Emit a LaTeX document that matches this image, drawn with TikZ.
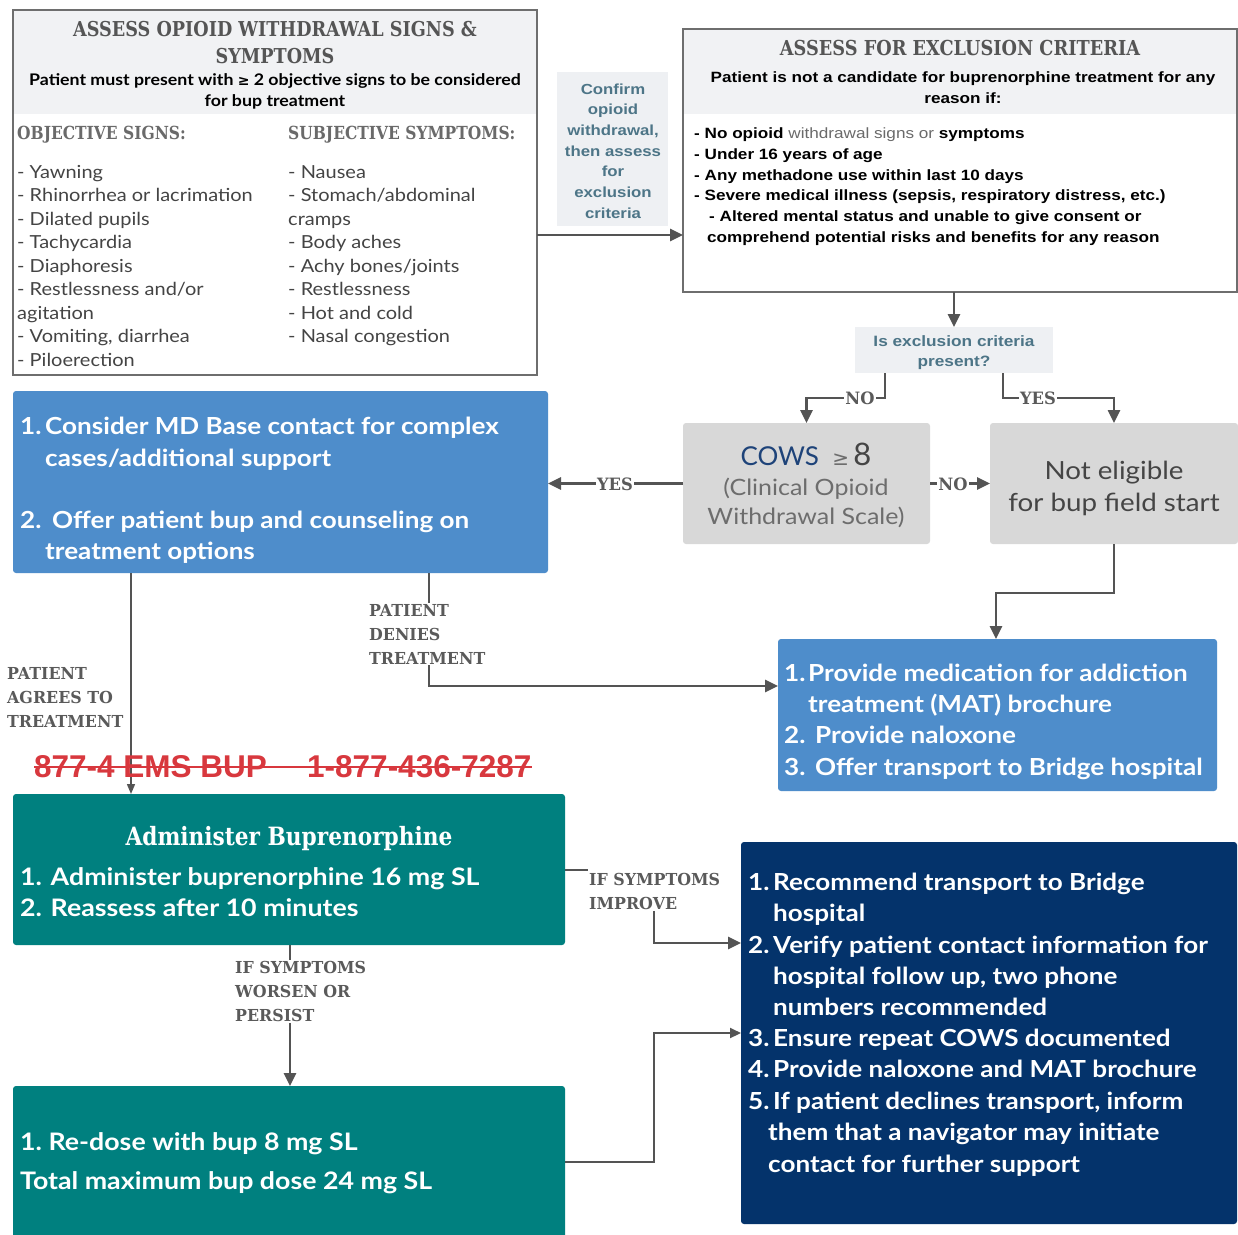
\documentclass[tikz,border=0pt]{standalone}
\usepackage{fontspec}
\setmainfont{Lato}
\newfontfamily\wide[FakeStretch=1.11]{Lato}
\newfontfamily\slab[FakeStretch=0.86]{DejaVu Serif}
\newfontfamily\slabl[FakeStretch=0.96]{DejaVu Serif}
\newfontfamily\arialw[FakeStretch=1.15]{Liberation Sans}
\newfontfamily\arial{Liberation Sans}
\newfontfamily\dejavu{DejaVu Sans}
\usetikzlibrary{arrows.meta}
\newcommand\fsz[2]{\fontsize{#1}{#2}\selectfont}
\definecolor{hdrgray}{HTML}{F1F2F4}
\definecolor{bordergray}{HTML}{6E6E6E}
\definecolor{qfill}{HTML}{EEF0F3}
\definecolor{conftext}{HTML}{4D7587}
\definecolor{cowsfill}{HTML}{D8D8D8}
\definecolor{bluebox}{HTML}{4E8DCB}
\definecolor{tealbox}{HTML}{00807F}
\definecolor{navybox}{HTML}{04336B}
\definecolor{lblgray}{HTML}{5A5A5A}
\definecolor{titlegray}{HTML}{555555}
\definecolor{listgray}{HTML}{444444}
\definecolor{midgray}{HTML}{6A6A6A}
\definecolor{redtxt}{HTML}{D8383E}
\definecolor{linecol}{HTML}{545454}
\definecolor{cowsblue}{HTML}{1E4379}
\definecolor{cowsgray}{HTML}{6D6D6D}
\definecolor{negray}{HTML}{454545}
\begin{document}
\begin{tikzpicture}[x=1pt,y=-1pt,
  box/.style={anchor=north west, inner sep=0pt, outer sep=0pt},
  gbox/.style={box, draw=bordergray, line width=1.3pt},
  cbox/.style={box, rounded corners=3pt},
  conn/.style={draw=linecol, line width=2.6pt, -{Triangle[length=13pt,width=12pt]}},
  thinconn/.style={draw=linecol, line width=1.4pt, -{Triangle[length=10pt,width=8pt]}},
  midconn/.style={draw=linecol, line width=2pt, -{Triangle[length=11pt,width=10pt]}},
  lbl/.style={font=\slabl\bfseries\fsz{16.5}{24}, text=lblgray, inner sep=1pt, align=left, anchor=north west},
  yn/.style={font=\slabl\bfseries\fsz{17}{17}, text=lblgray, fill=white, inner sep=1pt},
  ttl/.style={font=\slab\bfseries\fsz{20.5}{27}, text=titlegray, inner sep=0pt, anchor=base},
  colh/.style={font=\slab\bfseries\fsz{18}{20}, text=midgray, inner sep=0pt, anchor=base west},
  sub/.style={font=\wide\bfseries\fsz{16}{20}, text=black, inner sep=0pt, anchor=base},
  li/.style={font=\wide\fsz{18}{20}, text=listgray, inner sep=0pt, anchor=base west},
  exsub/.style={font=\arialw\bfseries\fsz{14.9}{18}, text=black, inner sep=0pt, anchor=base},
  exli/.style={font=\arialw\bfseries\fsz{14.9}{18}, text=black, inner sep=0pt, anchor=base west},
  conf/.style={font=\arialw\bfseries\fsz{14.6}{18}, text=conftext, inner sep=0pt, anchor=base},
  wt/.style={font=\wide\bfseries\fsz{23.5}{28}, text=white, inner sep=0pt, anchor=base west},
  tt/.style={wt, font=\wide\bfseries\fsz{24.1}{28}},
]
\useasboundingbox (0,0) rectangle (1238,1234);
\fill[white] (0,0) rectangle (1238,1234);

% ---------- top-left assessment box ----------
\fill[hdrgray] (13,10) rectangle (537,114);
\node[gbox, minimum width=524pt, minimum height=365pt] (assess) at (13,10) {};
\node[ttl] (t1a) at (275,36) {ASSESS OPIOID WITHDRAWAL SIGNS \&};
\node[ttl] (t1b) at (275,63) {SYMPTOMS};
\node[sub] (t1c) at (275,85) {Patient must present with {\dejavu\fsz{14}{16}≥} 2 objective signs to be considered};
\node[sub] (t1d) at (275,106) {for bup treatment};
\node[colh] (oh) at (17,139) {OBJECTIVE SIGNS:};
\node[colh] (sh) at (288,139) {SUBJECTIVE SYMPTOMS:};
\foreach \t [count=\i] in {- Yawning, - Rhinorrhea or lacrimation, - Dilated pupils, - Tachycardia, - Diaphoresis, - Restlessness and/or, agitation, {- Vomiting, diarrhea}, - Piloerection}
  \node[li] (ol\i) at (17,{178+23.5*(\i-1)}) {\t};
\foreach \t [count=\i] in {- Nausea, - Stomach/abdominal, cramps, - Body aches, - Achy bones/joints, - Restlessness, - Hot and cold, - Nasal congestion}
  \node[li] (sl\i) at (288,{178+23.5*(\i-1)}) {\t};

% ---------- confirm label box ----------
\node[box, fill=qfill, minimum width=111pt, minimum height=154pt] (conf) at (557,72) {};
\foreach \t [count=\i] in {Confirm, opioid, {withdrawal,}, then assess, for, exclusion, criteria}
  \node[conf] (cf\i) at (613,{94+20.7*(\i-1)}) {\t};

% ---------- exclusion box ----------
\fill[hdrgray] (683,29) rectangle (1237,114);
\node[gbox, minimum width=554pt, minimum height=263pt] (excl) at (683,29) {};
\node[ttl, font=\slab\bfseries\fsz{20.6}{24}] (e1) at (960,55) {ASSESS FOR EXCLUSION CRITERIA};
\node[exsub] (e2) at (963,82) {Patient is not a candidate for buprenorphine treatment for any};
\node[exsub] (e3) at (963,103) {reason if:};
\node[exli] (x1) at (694,138) {- No opioid {\mdseries\color{midgray}withdrawal signs or} symptoms};
\node[exli] (x2) at (694,159) {- Under 16 years of age};
\node[exli] (x3) at (694,180) {- Any methadone use within last 10 days};
\node[exli] (x4) at (694,200) {- Severe medical illness (sepsis, respiratory distress, etc.)};
\node[exli] (x5) at (709,221) {- Altered mental status and unable to give consent or};
\node[exli] (x6) at (707,242) {comprehend potential risks and benefits for any reason};

% ---------- question box ----------
\node[box, fill=qfill, minimum width=198pt, minimum height=46pt] (q) at (855,327) {};
\node[conf, font=\arialw\bfseries\fsz{15}{18}] (q1) at (954,346) {Is exclusion criteria};
\node[conf, font=\arialw\bfseries\fsz{15}{18}] (q2) at (954,366) {present?};

% ---------- COWS and not eligible ----------
\node[cbox, fill=cowsfill, minimum width=247pt, minimum height=121pt] (cows) at (683,423) {};
\node[inner sep=0pt, anchor=base, font=\fsz{26}{30}] (cw1) at (806,465) {\textcolor{cowsblue}{COWS}\ \ {\dejavu\fsz{20}{24}\color{cowsgray}≥}\,\textcolor{negray}{\fsz{31}{32}8}};
\node[inner sep=0pt, anchor=base, font=\wide\fsz{22.5}{26}, text=cowsgray] (cw2) at (806,495) {(Clinical Opioid};
\node[inner sep=0pt, anchor=base, font=\wide\fsz{22.5}{26}, text=cowsgray] (cw3) at (806,524) {Withdrawal Scale)};
\node[cbox, fill=cowsfill, minimum width=248pt, minimum height=121pt] (ne) at (990,423) {};
\node[inner sep=0pt, anchor=base, font=\wide\fsz{25}{30}, text=negray] (ne1) at (1114,479) {Not eligible};
\node[inner sep=0pt, anchor=base, font=\wide\fsz{25}{30}, text=negray] (ne2) at (1114,511) {for bup field start};

% ---------- blue box 1 ----------
\node[cbox, fill=bluebox, minimum width=535pt, minimum height=182pt] (b1) at (13,391) {};
\node[wt] (b1n1) at (20,434) {1.};
\node[wt] (b1a) at (45,434) {Consider MD Base contact for complex};
\node[wt] (b1b) at (45,466) {cases/additional support};
\node[wt] (b1n2) at (20,528) {2.};
\node[wt] (b1c) at (52,528) {Offer patient bup and counseling on};
\node[wt] (b1d) at (45,559) {treatment options};

% ---------- blue box 2 ----------
\node[cbox, fill=bluebox, minimum width=439pt, minimum height=152pt] (b2) at (778,639) {};
\node[wt] (b2n1) at (784,681) {1.};
\node[wt] (b2a) at (808,681) {Provide medication for addiction};
\node[wt] (b2b) at (808,712) {treatment (MAT) brochure};
\node[wt] (b2n2) at (784,743) {2.};
\node[wt] (b2c) at (815,743) {Provide naloxone};
\node[wt] (b2n3) at (784,775) {3.};
\node[wt] (b2d) at (815,775) {Offer transport to Bridge hospital};

% ---------- teal box 1 ----------
\node[cbox, fill=tealbox, minimum width=552pt, minimum height=151pt] (t1) at (13,794) {};
\node[inner sep=0pt, anchor=base, font=\slab\bfseries\fsz{25.2}{28}, text=white] (t1t) at (289,845) {Administer Buprenorphine};
\node[tt] (t1i1) at (20,885) {1. Administer buprenorphine 16 mg SL};
\node[tt] (t1i2) at (20,916) {2. Reassess after 10 minutes};

% ---------- teal box 2 ----------
\node[cbox, fill=tealbox, minimum width=552pt, minimum height=156pt] (t2) at (13,1086) {};
\node[tt] (t2i1) at (20,1150) {1.\ Re-dose with bup 8 mg SL};
\node[tt] (t2i2) at (20,1189) {Total maximum bup dose 24 mg SL};

% ---------- navy box ----------
\node[cbox, fill=navybox, minimum width=496pt, minimum height=382pt] (nv) at (741,842) {};
\foreach \n/\yy in {1./890, 2./953, 3./1046, 4./1077, 5./1109}
  \node[wt] (nvn\yy) at (748,\yy) {\n};
\node[wt] (nv1) at (773,890) {Recommend transport to Bridge};
\node[wt] (nv2) at (773,921) {hospital};
\node[wt] (nv3) at (773,953) {Verify patient contact information for};
\node[wt] (nv4) at (773,984) {hospital follow up, two phone};
\node[wt] (nv5) at (773,1015) {numbers recommended};
\node[wt] (nv6) at (773,1046) {Ensure repeat COWS documented};
\node[wt] (nv7) at (773,1077) {Provide naloxone and MAT brochure};
\node[wt] (nv8) at (773,1109) {If patient declines transport, inform};
\node[wt] (nv9) at (768,1140) {them that a navigator may initiate};
\node[wt] (nv10) at (768,1172) {contact for further support};

% ---------- labels ----------
\node[lbl] (lden) at (368,603) {PATIENT\\DENIES\\TREATMENT};
\node[lbl] (lagr) at (6,666) {PATIENT\\AGREES TO\\TREATMENT};
\node[lbl] (limp) at (588,872) {IF SYMPTOMS\\IMPROVE};
\node[lbl] (lwor) at (234,960) {IF SYMPTOMS\\WORSEN OR\\PERSIST};

% ---------- coordinates ----------
\coordinate (c1) at (0,235);
\coordinate (noX) at (885,398);
\coordinate (yesX) at (1003,398);
\coordinate (dX) at (429,686);
\coordinate (aX) at (131,0);
\coordinate (neL) at (996,593);
\coordinate (impY) at (654,870);
\coordinate (imp2) at (654,943);
\coordinate (wX) at (290,0);
\coordinate (rY) at (654,1162);
\coordinate (r2) at (654,1033);

% ---------- connectors ----------
\draw[conn] (assess.east |- c1) -- (excl.west |- c1);
\draw[conn] (q.north |- excl.south) -- (q.north);
\draw[conn] (q.south -| noX) -- (noX) -- (cows.north |- noX) -- (cows.north);
\node[yn] (lno1) at (860,398) {NO};
\draw[conn] (q.south -| yesX) -- (yesX) -- (ne.north |- yesX) -- (ne.north);
\node[yn] (lyes1) at (1038,398) {YES};
\draw[conn] (cows.west) -- (cows.west -| b1.east);
\node[yn] (lyes2) at (615,484) {YES};
\draw[conn] (cows.east) -- (ne.west);
\node[yn] (lno2) at (953,484) {NO};
\draw[draw=linecol, line width=2.6pt] (b1.south -| dX) -- (lden.north -| dX);
\draw[conn] (lden.south -| dX) -- (dX) -- (b2.west |- dX);
\draw[conn] (ne.south) -- (ne.south |- neL) -- (neL) -- (b2.north -| neL);
\draw[thinconn] (b1.south -| aX) -- (t1.north -| aX);
\draw[draw=linecol, line width=2.6pt] (t1.east |- impY) -- (limp.west |- impY);
\draw[conn] (limp.south -| imp2) -- (imp2) -- (nv.west |- imp2);
\draw[draw=linecol, line width=2.6pt] (t1.south -| wX) -- (lwor.north -| wX);
\draw[conn] (lwor.south -| wX) -- (t2.north -| wX);
\draw[midconn] (t2.east |- rY) -- (rY) -- (r2) -- (nv.west |- r2);

% ---------- red phone text ----------
\node[inner sep=0pt, anchor=base west, font=\arial\bfseries\fsz{31.5}{34}, text=redtxt] (ph1) at (34,777) {877-4 EMS BUP};
\node[inner sep=0pt, anchor=base west, font=\arial\bfseries\fsz{31.5}{34}, text=redtxt] (ph2) at (307,777) {1-877-436-7287};
\draw[redtxt, line width=2pt] (ph1.west |- 0,767) -- (ph2.east |- 0,767);
\end{tikzpicture}
\end{document}
